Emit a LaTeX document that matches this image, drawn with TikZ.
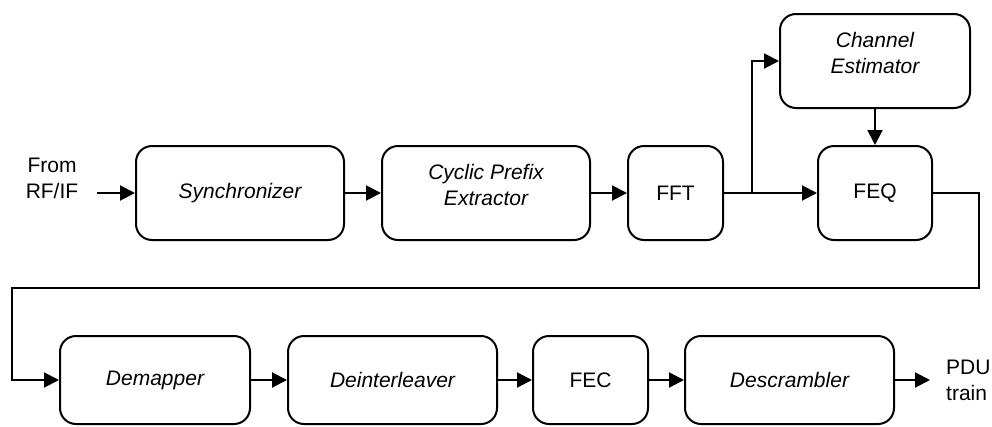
\documentclass[tikz,border=0pt]{standalone}
\usepackage{fontspec}
\setmainfont{Liberation Sans}
\usetikzlibrary{arrows.meta}
% two-line block caption, set a little above the box centre
\newcommand{\twoline}[2]{\raisebox{6pt}[\height][\depth]{\begin{tabular}{@{}c@{}}#1\\#2\end{tabular}}}
\begin{document}
\begin{tikzpicture}[x=1pt,y=-1pt,
  font=\fontsize{21}{26}\selectfont,
  block/.style={draw, line width=2pt, rounded corners=16pt, align=center,
    inner sep=0pt, font=\fontsize{21}{26}\selectfont\itshape},
  plainblock/.style={block, font=\fontsize{21}{26}\selectfont},
  flow/.style={line width=2pt, -{Triangle[length=15pt,width=15pt]}},
  lbl/.style={align=left, inner sep=0pt}]
\useasboundingbox (0,0) rectangle (992,426);

% top row
\node[block, minimum width=208pt, minimum height=94pt] (sync) at (240,193) {Synchronizer};
\node[block, minimum width=208pt, minimum height=94pt] (cpe) at (486,193) {\twoline{Cyclic Prefix}{Extractor}};
\node[plainblock, minimum width=95pt, minimum height=94pt] (fft) at (675.5,193) {FFT};
\node[plainblock, minimum width=114pt, minimum height=94pt] (feq) at (875,193) {FEQ};
\node[block, minimum width=190pt, minimum height=94pt] (che) at (875,61) {\twoline{Channel}{Estimator}};

% bottom row
\node[block, minimum width=190pt, minimum height=88pt] (dem) at (155,380) {Demapper};
\node[block, minimum width=209pt, minimum height=88pt] (dint) at (392.5,380) {Deinterleaver};
\node[plainblock, minimum width=115pt, minimum height=88pt] (fec) at (590.5,380) {FEC};
\node[block, minimum width=209pt, minimum height=88pt] (desc) at (789.5,380) {Descrambler};

% outer labels
\node[align=center, inner sep=0pt] (src) at (52,178) {From\\RF/IF};
\node[lbl, anchor=west] (sink) at (946,380) {PDU\\train};

% connector ends
\coordinate (inA) at (97,193);
\coordinate (outB) at (930,380);
\coordinate (split) at (752,193);
\coordinate (turnR) at (979,288);
\coordinate (turnL) at (12,288);

% connectors
\draw[flow] (inA) -- (sync.west);
\draw[flow] (sync) -- (cpe);
\draw[flow] (cpe) -- (fft);
\draw[flow] (fft) -- (feq);
\draw[flow] (split) |- (che.west);
\draw[flow] (che) -- (feq);
\draw[flow] (feq.east) -| (turnR) -- (turnL) |- (dem.west);
\draw[flow] (dem) -- (dint);
\draw[flow] (dint) -- (fec);
\draw[flow] (fec) -- (desc);
\draw[flow] (desc.east) -- (outB);
\end{tikzpicture}
\end{document}
